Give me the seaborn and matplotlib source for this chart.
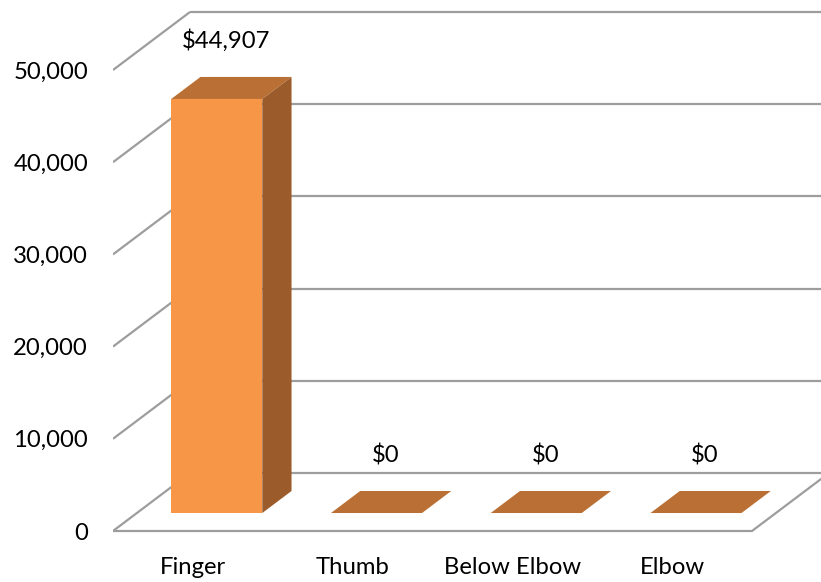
import matplotlib
matplotlib.use("Agg")
import matplotlib.pyplot as plt
import seaborn as sns
import pandas as pd
import numpy as np

# Prosthesis cost by amputation level
categories = ["Finger", "Thumb", "Below Elbow", "Elbow"]
costs = [44907, 0, 0, 0]
value_labels = ["$44,907", "$0", "$0", "$0"]
y_ticks = [0, 10000, 20000, 30000, 40000, 50000]
y_tick_labels = ["0", "10,000", "20,000", "30,000", "40,000", "50,000"]

sns.set_theme(style="white")
plt.rcParams["font.family"] = ["Lato", "DejaVu Sans"]

FRONT = "#F79646"
TOP = "#BA7034"
SIDE = "#9C5B2A"
GRID = "#9d9d9d"
FS = 17.2

W, H = 821, 582
fig = plt.figure(figsize=(W / 100, H / 100), dpi=100)
left_px, bottom_px = 113, 545
ax = fig.add_axes([left_px / W, (H - bottom_px) / H, (W - left_px) / W, bottom_px / H])

px_per_cat = 159.75
px_per_val = 9.22 / 1000
zero_px = 531
xlim = (-0.5, -0.5 + (W - left_px) / px_per_cat)
ylim = (-(bottom_px - zero_px) / px_per_val, zero_px / px_per_val)

# oblique depth of the floor (data units) and where the bars sit in it
DX = 77 / px_per_cat
DY = 58 / px_per_val
d0, d1 = 0.31, 0.69
bar_w = 0.57
base = d0 * DY
ddx = (d1 - d0) * DX
ddy = (d1 - d0) * DY

# walls: oblique lines on the left wall, horizontal lines on the back wall
x0 = -0.5
x_end = len(categories) - 0.5
line_kw = dict(color=GRID, lw=1.6, zorder=1, solid_capstyle="butt")
for v in y_ticks:
    ax.plot([x0, x0 + DX], [v, v + DY], **line_kw)
    ax.plot([x0 + DX, xlim[1] + 0.1], [v + DY, v + DY], **line_kw)
# floor outline
ax.plot([x0, x_end, x_end + DX], [0, 0, DY], **line_kw)

# front faces of the bars
df = pd.DataFrame({"pos": np.arange(len(categories)) + d0 * DX, "cost": costs})
sns.barplot(data=df, x="pos", y="cost", native_scale=True, width=bar_w,
            color=FRONT, saturation=1, edgecolor="none", linewidth=0,
            errorbar=None, ax=ax, zorder=3)
for p in ax.patches:
    p.set_y(p.get_y() + base)

# top and side faces, value labels
for i, v in enumerate(costs):
    xl = i - bar_w / 2 + d0 * DX
    xr = xl + bar_w
    yt = base + v
    ax.fill([xl, xr, xr + ddx, xl + ddx], [yt, yt, yt + ddy, yt + ddy],
            color=TOP, lw=0, zorder=3)
    if v > 0:
        ax.fill([xr, xr + ddx, xr + ddx, xr], [base, base + ddy, yt + ddy, yt],
                color=SIDE, lw=0, zorder=3)
    ax.annotate(value_labels[i], (i + d0 * DX, yt), xytext=(6.5, 36.7),
                textcoords="offset points", ha="center", va="baseline",
                fontsize=FS, color="black")

ax.set_xlim(*xlim)
ax.set_ylim(*ylim)
ax.set_xticks(range(len(categories)), categories)
ax.set_yticks(y_ticks, y_tick_labels)
ax.tick_params(axis="x", length=0, pad=8.5, labelsize=FS, colors="black")
ax.tick_params(axis="y", length=0, pad=18, labelsize=FS, colors="black")
ax.set_xlabel("")
ax.set_ylabel("")
ax.grid(False)
for s in ax.spines.values():
    s.set_visible(False)
ax.patch.set_alpha(0)

fig.savefig("out.png", dpi=100, facecolor="white")
